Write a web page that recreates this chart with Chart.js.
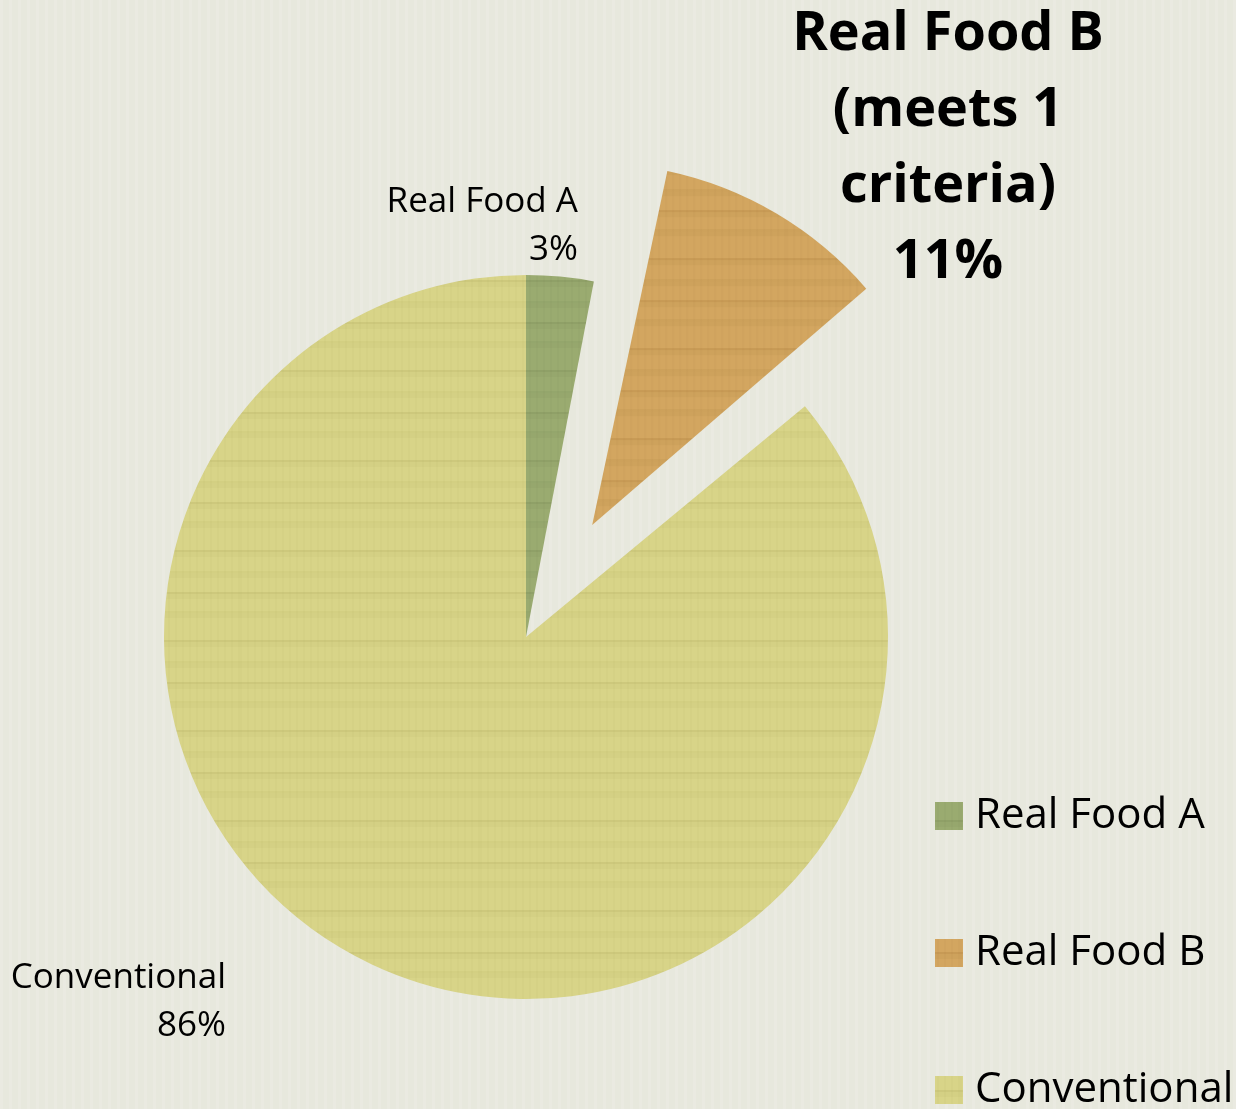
<!DOCTYPE html>
<html>
<head>
<meta charset="utf-8">
<script src="https://cdn.jsdelivr.net/npm/chart.js@4"></script>
<style>
  html, body { margin: 0; padding: 0; background: #e7e8dd; }
  #wrap { width: 1236px; height: 1109px; }
</style>
</head>
<body>
<div id="wrap"><canvas id="food-pie" width="1236" height="1109"></canvas></div>
<script>
// chart data
const categories = ['Real Food A', 'Real Food B', 'Conventional'];
const shares = [3, 11, 86];
const shareLabels = ['3%', '11%', '86%'];

// slice styling
const baseColors = ['#9aab70', '#d3a660', '#d8d488'];
const grainColors = ['#5f7040', '#8f6528', '#9a9446'];
// chart.js moves an arc by offset / 4
const explode = [0, 520, 0];

const canvas = document.getElementById('food-pie');
const ctx = canvas.getContext('2d');

// wood-grain like fill for each slice
function grainPattern(base, dark) {
	const c = document.createElement('canvas');
	c.width = 240;
	c.height = 90;
	const g = c.getContext('2d');
	g.fillStyle = base;
	g.fillRect(0, 0, 240, 90);
	g.fillStyle = dark;
	[10, 31, 52, 71].forEach((y, i) => {
		g.globalAlpha = i % 2 ? 0.08 : 0.18;
		g.fillRect(0, y, 240, 2);
		g.globalAlpha = 0.06;
		g.fillRect(0, y + 2, 240, 5);
	});
	for (let x = 0; x < 240; x += 7) {
		g.globalAlpha = 0.04;
		g.fillRect(x, 0, 2, 90);
	}
	return ctx.createPattern(c, 'repeat');
}

const fills = baseColors.map((b, i) => grainPattern(b, grainColors[i]));

// background with faint vertical texture
const backdrop = {
	id: 'backdrop',
	beforeDraw(chart) {
		const { ctx: c, width, height } = chart;
		c.save();
		c.fillStyle = '#e7e8dd';
		c.fillRect(0, 0, width, height);
		c.fillStyle = '#ffffff';
		for (let x = 0; x < width; x += 9) {
			c.globalAlpha = 0.12;
			c.fillRect(x, 0, 3, height);
		}
		c.restore();
	},
};

// exploded arcs get drawn bigger by chart.js; pull them back to the pie radius
const keepRadius = {
	id: 'keepRadius',
	afterDatasetUpdate(chart, args) {
		args.meta.data.forEach((arc, i) => {
			const off = (explode[i] || 0) / 4;
			if (!off) return;
			const fix = 1 - Math.sin(Math.min(Math.PI, arc.circumference || 0));
			arc.outerRadius -= off * fix;
		});
	},
};

// slice labels, placed like the original
const labelSpots = [
	{ x: 578, y: 202, align: 'right', font: '35px "Open Sans"', lineH: 48 },
	{ x: 948, y: 35, align: 'center', font: 'bold 54px "Open Sans"', lineH: 76,
	  lines: ['Real Food B', '(meets 1', 'criteria)'] },
	{ x: 226, y: 978, align: 'right', font: '35px "Open Sans"', lineH: 48 },
];

const sliceLabels = {
	id: 'sliceLabels',
	afterDraw(chart) {
		const c = chart.ctx;
		c.save();
		c.fillStyle = '#000';
		c.textBaseline = 'middle';
		labelSpots.forEach((s, i) => {
			const lines = (s.lines || [categories[i]]).concat(shareLabels[i]);
			c.font = s.font;
			c.textAlign = s.align;
			lines.forEach((t, k) => c.fillText(t, s.x, s.y + k * s.lineH));
		});
		c.restore();
	},
};

// legend at bottom right
const sideLegend = {
	id: 'sideLegend',
	afterDraw(chart) {
		const c = chart.ctx;
		c.save();
		c.textBaseline = 'middle';
		c.textAlign = 'left';
		c.font = '42px "Open Sans"';
		chart.data.labels.forEach((lab, i) => {
			const y = 816 + i * 137;
			c.fillStyle = fills[i];
			c.fillRect(935, y - 14, 28, 28);
			c.fillStyle = '#000';
			c.fillText(lab, 975, y);
		});
		c.restore();
	},
};

new Chart(canvas, {
	type: 'pie',
	data: {
		labels: categories,
		datasets: [{
			data: shares,
			backgroundColor: fills,
			borderWidth: 0,
			offset: explode,
			hoverOffset: 0,
		}],
	},
	options: {
		responsive: false,
		animation: false,
		events: [],
		radius: 362,
		layout: { padding: { left: 0, right: 184, top: 165, bottom: 0 } },
		plugins: {
			legend: { display: false },
			tooltip: { enabled: false },
		},
	},
	plugins: [backdrop, keepRadius, sliceLabels, sideLegend],
});
</script>
</body>
</html>
